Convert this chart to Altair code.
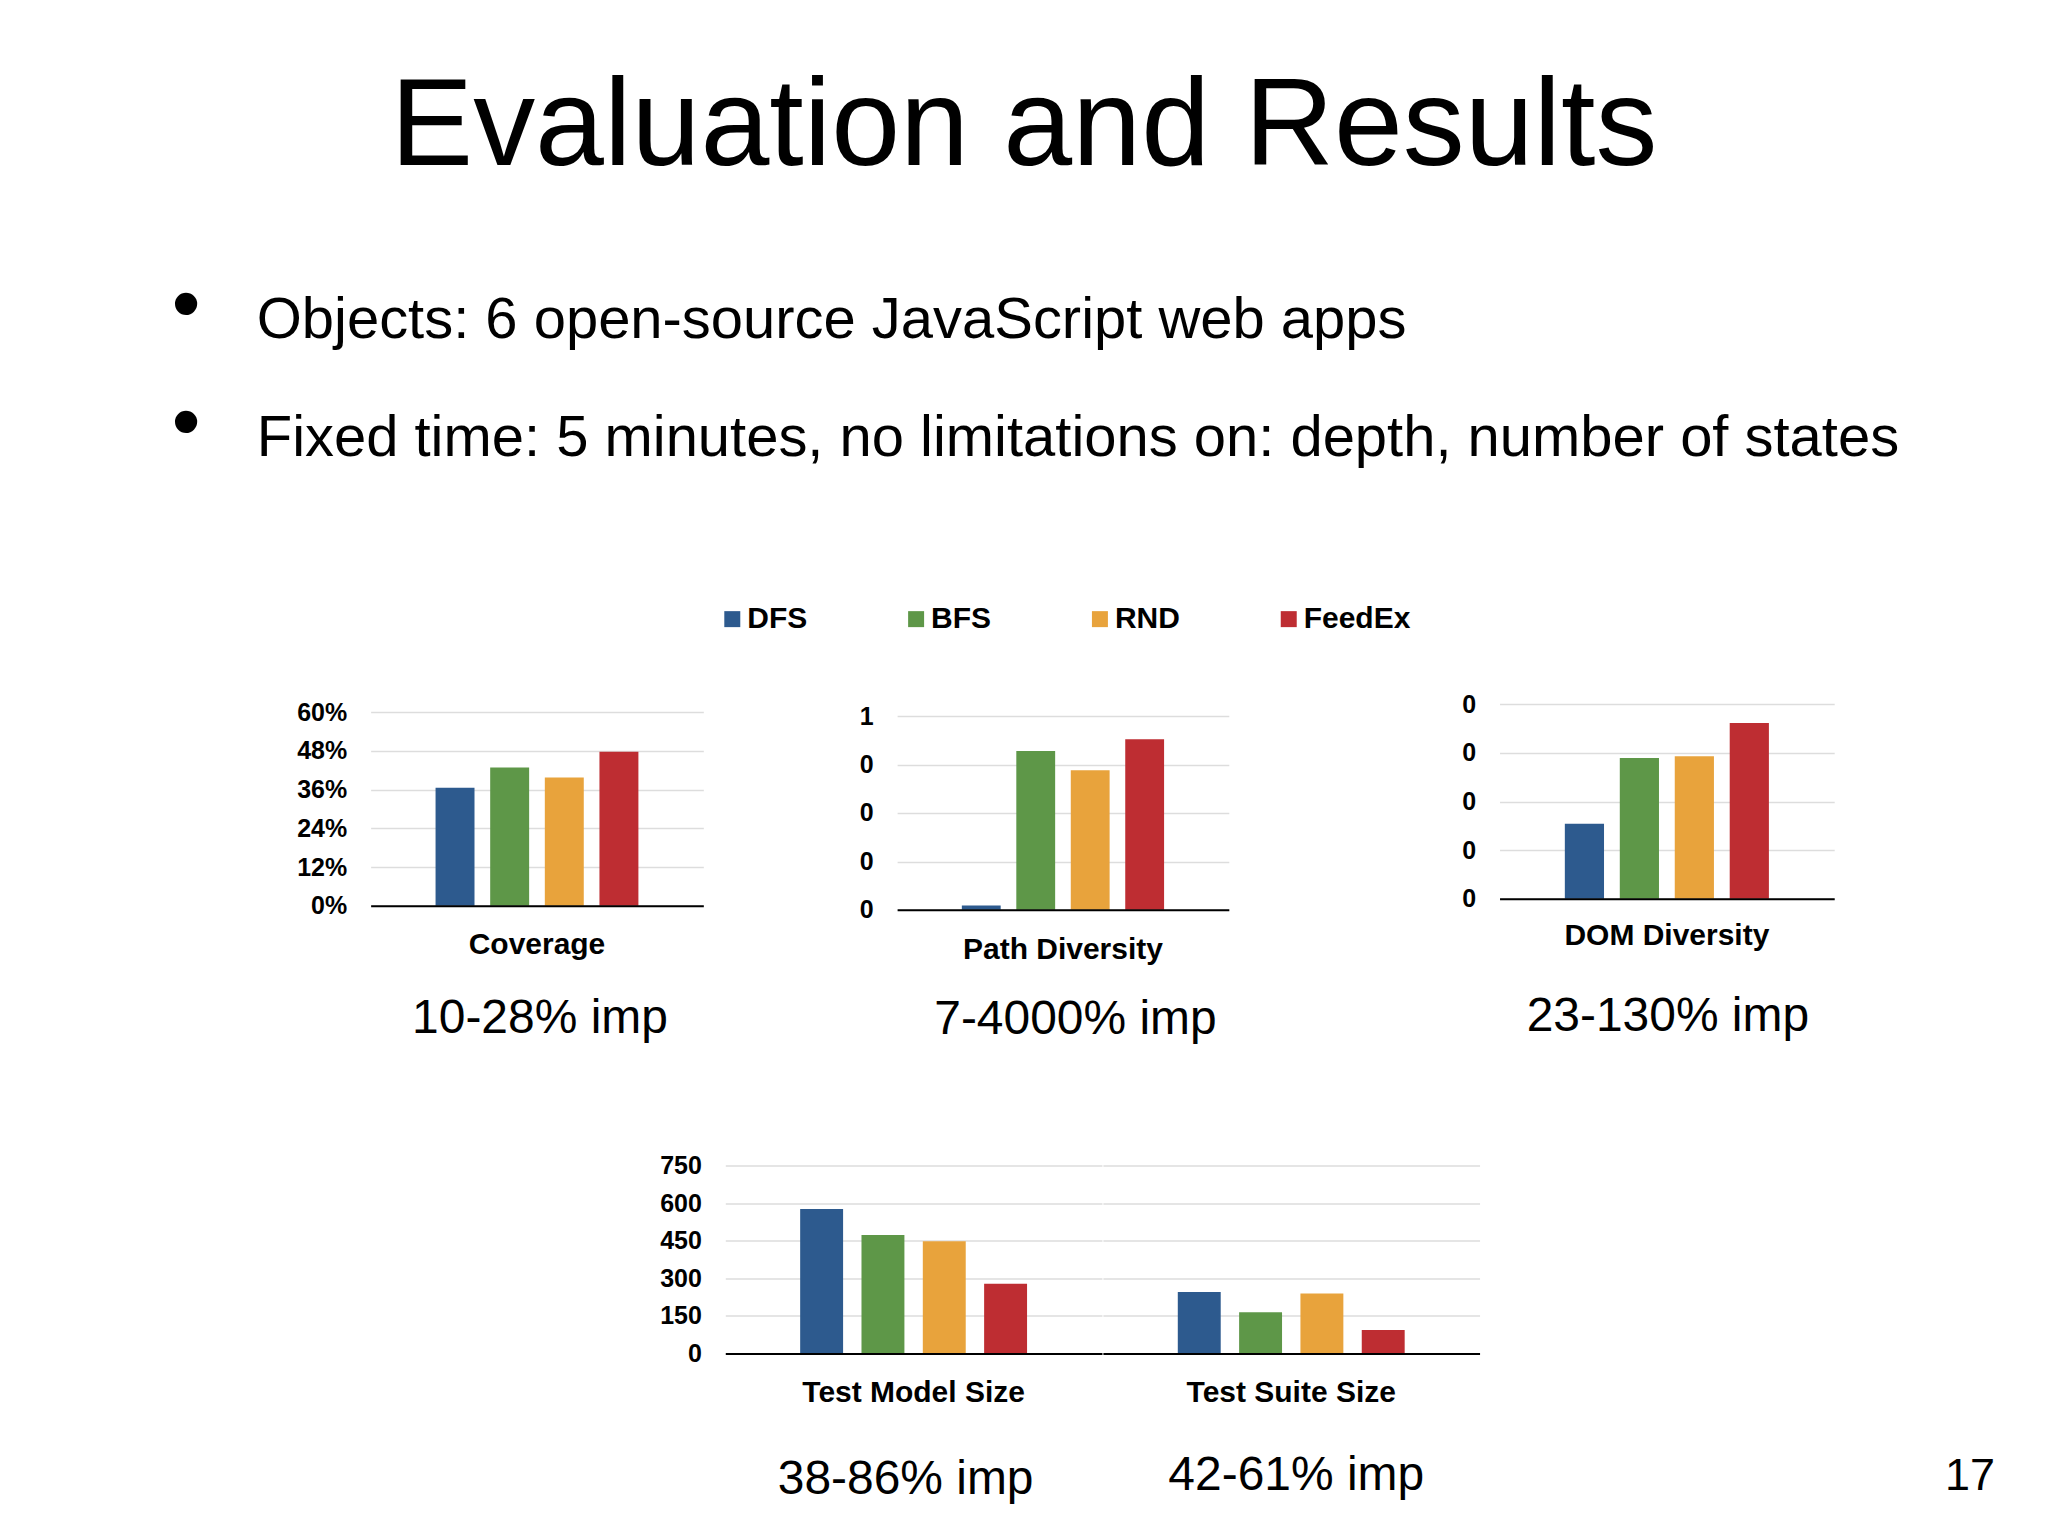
import altair as alt
import pandas as pd

FONT = "Liberation Sans"

# ---- data ----
methods = ["DFS", "BFS", "RND", "FeedEx"]
method_colors = ["#2D5A8E", "#5E9748", "#E8A33C", "#BE2D32"]

coverage = [0.366, 0.428, 0.397, 0.477]
path_diversity = [0.011, 0.41, 0.36, 0.44]
dom_diversity = [0.154, 0.289, 0.293, 0.361]
test_model_size = [577, 473, 448, 278]
test_suite_size = [245, 164, 239, 93]

coverage_ticks = [0, 0.12, 0.24, 0.36, 0.48, 0.60]
path_ticks = [0, 0.125, 0.25, 0.375, 0.5]
dom_ticks = [0, 0.1, 0.2, 0.3, 0.4]
size_ticks = [0, 150, 300, 450, 600, 750]

slide_title = "Evaluation and Results"
bullet_marks = ["\u2022", "\u2022"]
bullet_lines = [
    "Objects: 6 open-source JavaScript web apps",
    "Fixed time: 5 minutes, no limitations on: depth, number of states",
]
metric_names = ["Coverage", "Path Diversity", "DOM Diversity", "Test Model Size", "Test Suite Size"]
improvements = ["10-28% imp", "7-4000% imp", "23-130% imp", "38-86% imp", "42-61% imp"]
page_number = "17"

W = 2032          # page width minus margins
PANEL_H = 1100    # height of the layered chart area


def bottom_title(text, size, offset, dx=0, anchor="middle", align=None, line_height=None):
    kw = dict(text=text, orient="bottom", anchor=anchor, frame="group", baseline="top",
              offset=offset, dx=dx, fontSize=size, font=FONT, fontWeight="normal", color="black")
    if align is not None:
        kw["align"] = align
    if line_height is not None:
        kw["lineHeight"] = line_height
    return alt.TitleParams(**kw)


def blank(w, h, title=None):
    c = alt.Chart(pd.DataFrame({"t": [0]})).mark_point(opacity=0, size=1)
    if title is not None:
        return c.properties(width=w, height=h, title=title)
    return c.properties(width=w, height=h)


def bars(metric, values, ticks, label_expr, x_range, y_range, imp, imp_pad, imp_x,
         x_pad_outer=0.32, off_pad_inner=0.287, label_pad=24, show_labels=True):
    df = pd.DataFrame({"metric": [metric] * len(methods), "method": methods, "value": values})
    return alt.Chart(df).mark_bar().encode(
        x=alt.X("metric:N", title=imp,
                scale=alt.Scale(range=x_range, paddingInner=0, paddingOuter=x_pad_outer),
                axis=alt.Axis(orient="bottom", offset=y_range[0] - PANEL_H, labelAngle=0,
                              labelFont=FONT, labelFontSize=30, labelFontWeight="bold",
                              labelColor="black", labelPadding=label_pad, labelLimit=600,
                              ticks=False, tickSize=0, domain=True, domainColor="black",
                              domainWidth=2, grid=False, zindex=1,
                              titleFont=FONT, titleFontSize=48, titleFontWeight="normal",
                              titleColor="black", titlePadding=imp_pad, titleX=imp_x)),
        xOffset=alt.XOffset("method:N",
                            scale=alt.Scale(domain=methods, paddingInner=off_pad_inner, paddingOuter=0)),
        y=alt.Y("value:Q", title=None,
                scale=alt.Scale(domain=[ticks[0], ticks[-1]], range=y_range, nice=False),
                axis=alt.Axis(orient="left", offset=-x_range[0], values=ticks, labelExpr=label_expr,
                              grid=True, gridColor="#DDDDDD", gridWidth=1.5, domain=False,
                              ticks=False, tickSize=0, labelPadding=24, labels=show_labels,
                              labelFont=FONT, labelFontSize=25, labelFontWeight="bold",
                              labelColor="black")),
        color=alt.Color("method:N", scale=alt.Scale(domain=methods, range=method_colors),
                        legend=alt.Legend(title=None)),
    )


pct_expr = "round(datum.value * 100) + '%'"
int_expr = "'' + round(datum.value)"

cov = bars(metric_names[0], coverage, coverage_ticks, pct_expr, [362, 695], [647, 453],
           improvements[0], 35, 531)
path = bars(metric_names[1], path_diversity, path_ticks, int_expr, [889, 1221], [651, 457],
            improvements[1], 31, 1067, label_pad=25)
dom = bars(metric_names[2], dom_diversity, dom_ticks, int_expr, [1492, 1827], [640, 445],
           improvements[2], 42, 1660, label_pad=22)
tm = bars(metric_names[3], test_model_size, size_ticks, int_expr, [717, 1094], [1095, 907],
          improvements[3], 48, 897, x_pad_outer=0.33, off_pad_inner=0.3)
ts = bars(metric_names[4], test_suite_size, size_ticks, int_expr, [1095, 1472], [1095, 907],
          improvements[4], 44, 1288, x_pad_outer=0.33, off_pad_inner=0.3, show_labels=False)

charts = alt.layer(cov, path, dom, tm, ts).resolve_scale(
    x="independent", y="independent", xOffset="independent"
).properties(width=W, height=PANEL_H)

row_title = blank(W, 50, bottom_title(slide_title, 124, 8))
row_dots = blank(W, 200, bottom_title(bullet_marks, 82, 8, anchor="start", dx=163, line_height=118))
row_text = blank(W, 1, bottom_title(bullet_lines, 58, 33, anchor="start", dx=248, line_height=118))
row_page = blank(W, 1, bottom_title(page_number, 45, 95, anchor="start", align="center", dx=1963))

chart = alt.vconcat(
    row_title, row_dots, row_text, charts, row_page,
    spacing=0, bounds="flush",
).properties(
    padding=0,
).configure(
    font=FONT,
    background="white",
).configure_view(
    stroke="transparent",
).configure_legend(
    orient="none",
    legendX=709,
    legendY=596,
    direction="horizontal",
    symbolType="square",
    symbolSize=256,
    symbolStrokeWidth=0,
    symbolOpacity=1,
    labelFont=FONT,
    labelFontSize=30,
    labelFontWeight="bold",
    labelColor="black",
    labelOffset=0,
    columnPadding=94,
    padding=0,
)

chart.save("out.html", embed_options={"renderer": "svg", "actions": False})
